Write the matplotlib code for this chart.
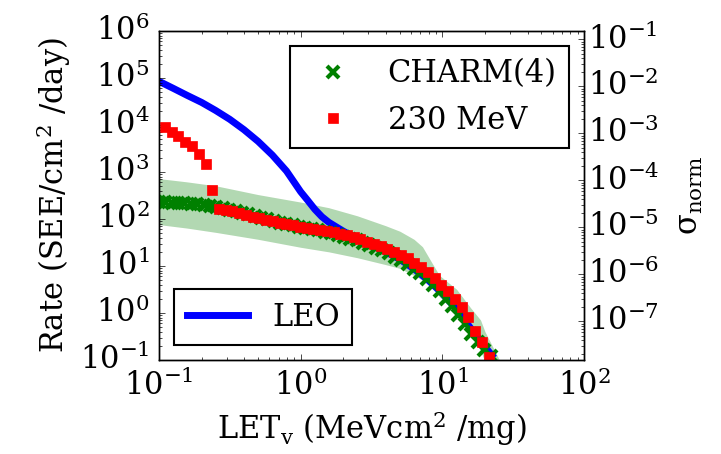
import matplotlib
matplotlib.use("Agg")
import matplotlib.pyplot as plt
import numpy as np

# LEO rate curve (SEE/cm2/day) vs LET
leo_let = [0.1, 0.126, 0.158, 0.2, 0.251, 0.316, 0.398, 0.501, 0.631, 0.794,
           1.0, 1.12, 1.26, 1.41, 1.58, 2.0, 2.51, 3.16, 3.98, 5.01,
           6.31, 7.94, 10.0, 12.6, 15.8, 20.0, 22.4]
leo_rate = [85100, 60300, 42700, 30200, 20400, 13200, 7940, 4470, 2290, 1050,
            380, 250, 160, 112, 85, 55, 38, 27.5, 20, 13.8,
            8.7, 5.0, 2.6, 1.2, 0.48, 0.19, 0.126]

# CHARM(4) points
charm_let = [0.1, 0.111, 0.123, 0.136, 0.151, 0.168, 0.186, 0.207, 0.229, 0.254,
             0.282, 0.313, 0.347, 0.385, 0.427, 0.473, 0.525, 0.582, 0.646, 0.716,
             0.794, 0.881, 0.977, 1.08, 1.20, 1.33, 1.48, 1.64, 1.82, 2.02,
             2.24, 2.48, 2.75, 3.05, 3.39, 3.76, 4.17, 4.62, 5.13, 5.69,
             6.31, 7.00, 7.76, 8.61, 9.55, 10.6, 11.7, 13.0, 14.5, 16.0,
             17.8, 19.7, 21.9]
charm_rate = [234, 229, 224, 221, 216, 209, 204, 197, 191, 182,
              170, 157, 145, 135, 126, 115, 106, 98, 90, 84,
              79, 73, 68, 65, 60, 57, 54, 50, 46, 42,
              38, 35, 31, 27.5, 24.5, 21.4, 18.6, 15.8, 13.2, 10.9,
              8.8, 7.0, 5.2, 3.9, 2.9, 2.0, 1.38, 0.90, 0.58, 0.36,
              0.24, 0.166, 0.12]

# 230 MeV points
p230_let = [0.110, 0.123, 0.137, 0.153, 0.171, 0.191, 0.213, 0.237, 0.265, 0.295,
            0.330, 0.368, 0.410, 0.458, 0.511, 0.570, 0.636, 0.710, 0.792, 0.884,
            0.986, 1.10, 1.23, 1.37, 1.53, 1.71, 1.90, 2.12, 2.37, 2.64,
            2.95, 3.29, 3.67, 4.10, 4.57, 5.10, 5.70, 6.35, 7.09, 7.91,
            8.83, 9.86, 11.0, 12.3, 13.7, 15.3, 17.1, 19.0, 21.2]
p230_rate = [9100, 7200, 5900, 4400, 3500, 2450, 1500, 420, 166, 155,
             145, 135, 123, 112, 105, 97, 90, 84, 79, 73,
             69, 65, 62, 58, 55, 52, 48, 45, 41, 37,
             33, 30, 27, 23.4, 20, 17, 14.5, 11.7, 9.5, 7.4,
             5.5, 4.0, 2.95, 2.0, 1.32, 0.83, 0.41, 0.24, 0.117]

# CHARM uncertainty band
band_let = [0.1, 0.158, 0.251, 0.5, 1.0, 1.58, 2.51, 3.98, 5.01, 6.31,
            7.24, 8.51, 9.55, 12.6, 15.8, 18.6, 20.0, 22.9, 26.3]
band_hi = [724, 616, 510, 331, 229, 174, 117, 72, 55, 37,
           25.7, 11.2, 6.3, 3.2, 1.3, 0.71, 0.40, 0.18, 0.08]
band_lo = [76, 64, 52, 37, 25, 20, 15, 10.7, 8.9, 6.3,
           5.0, 3.6, 2.2, 1.0, 0.40, 0.16, 0.09, 0.05, 0.05]

sigma_scale = 10 ** -6.82

plt.style.use("classic")
plt.rcParams["font.family"] = "serif"
plt.rcParams["font.serif"] = ["DejaVu Serif"]
plt.rcParams["mathtext.fontset"] = "dejavuserif"
plt.rcParams["axes.unicode_minus"] = False
plt.rcParams["font.size"] = 22

fig = plt.figure(figsize=(7.21, 4.54), dpi=100, facecolor="white")
fig.subplots_adjust(left=159 / 721, right=584 / 721, top=1 - 31 / 454, bottom=1 - 360 / 454)
ax = fig.add_subplot(111)

ax.fill_between(band_let, band_lo, band_hi, color="g", alpha=0.3, linewidth=0, zorder=1)
h_leo, = ax.plot(leo_let, leo_rate, color="b", lw=5, zorder=2)
h_charm, = ax.plot(charm_let, charm_rate, ls="none", marker="x", ms=8, mew=3,
                   color="g", mec="g", zorder=3)
h_230, = ax.plot(p230_let, p230_rate, ls="none", marker="s", ms=7,
                 color="r", mec="r", zorder=4)

ax.set_xscale("log")
ax.set_yscale("log")
ax.set_xlim(1e-1, 1e2)
ax.set_ylim(1e-1, 1e6)
ax.set_xlabel(r"LET$_\mathrm{v}$ (MeVcm$^2$ /mg)", fontsize=22)
ax.set_ylabel(r"Rate (SEE/cm$^2$ /day)", fontsize=22)
ax.tick_params(axis="both", which="major", labelsize=22, pad=7)

leg1 = ax.legend([h_leo], ["LEO"], loc="lower left", numpoints=1, fontsize=22)
leg1.get_frame().set_linewidth(1.5)
ax.add_artist(leg1)
leg2 = ax.legend([h_charm, h_230], ["CHARM(4)", "230 MeV"], loc="upper right",
                 numpoints=1, fontsize=22)
leg2.get_frame().set_linewidth(1.5)

ax2 = ax.twinx()
ax2.set_yscale("log")
ax2.set_ylim(1e-1 * sigma_scale, 1e6 * sigma_scale)
ax2.set_ylabel("σ$_\\mathrm{norm}$", fontsize=22, labelpad=10)
ax2.tick_params(axis="y", which="major", labelsize=22, pad=3)

fig.savefig("out.png", dpi=100, facecolor="white")
